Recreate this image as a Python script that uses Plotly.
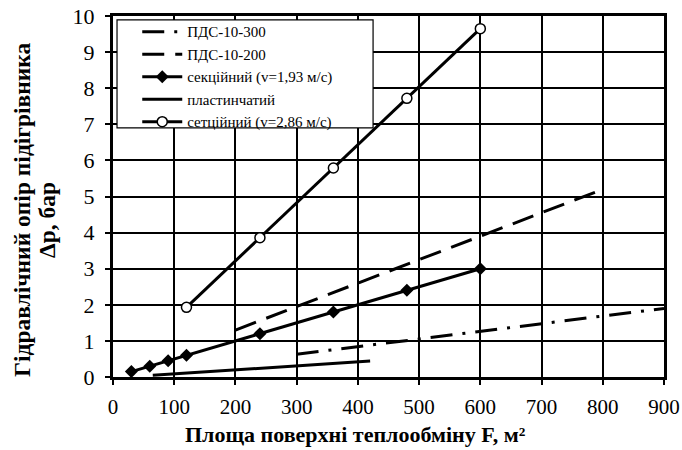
import plotly.graph_objects as go

# Data
sek_x = [30, 60, 90, 120, 240, 360, 480, 600]
sek_y = [0.15, 0.30, 0.45, 0.60, 1.20, 1.80, 2.40, 3.00]
set_x = [120, 240, 360, 480, 600]
set_y = [1.93, 3.86, 5.79, 7.72, 9.65]
pds200_x = [200, 800]
pds200_y = [1.30, 5.20]
pds300_x = [300, 900]
pds300_y = [0.63, 1.90]
plast_x = [65, 420]
plast_y = [0.05, 0.44]

x_ticks = [0, 100, 200, 300, 400, 500, 600, 700, 800, 900]
y_ticks = [0, 1, 2, 3, 4, 5, 6, 7, 8, 9, 10]

x_title = "Площа поверхні теплообміну F, м²"
y_title_1 = "Гідравлічний опір підігрівника"
y_title_2 = "Δp, бар"

FONT = "Liberation Serif"

fig = go.Figure()
fig.add_trace(go.Scatter(x=pds300_x, y=pds300_y, mode="lines", name="ПДС-10-300",
                         line=dict(color="black", width=3, dash="22px,10px,3px,10px")))
fig.add_trace(go.Scatter(x=pds200_x, y=pds200_y, mode="lines", name="ПДС-10-200",
                         line=dict(color="black", width=3, dash="22px,11px")))
fig.add_trace(go.Scatter(x=sek_x, y=sek_y, mode="lines+markers", name="секційний (v=1,93 м/с)",
                         line=dict(color="black", width=3),
                         marker=dict(symbol="diamond", size=10, color="black")))
fig.add_trace(go.Scatter(x=plast_x, y=plast_y, mode="lines", name="пластинчатий",
                         line=dict(color="black", width=3)))
fig.add_trace(go.Scatter(x=set_x, y=set_y, mode="lines+markers", name="сетційний (v=2,86 м/с)",
                         line=dict(color="black", width=3),
                         marker=dict(symbol="circle", size=10, color="white",
                                     line=dict(color="black", width=1.5))))

# legend frame (white box with black border)
fig.add_shape(type="rect", xref="paper", yref="paper",
              x0=0.0073, x1=0.472, y0=0.690, y1=0.989,
              fillcolor="white", line=dict(color="black", width=1.2), layer="above")

# axis titles
fig.add_annotation(text="<b>" + x_title + "</b>", xref="paper", yref="paper",
                   x=0.441, y=-0.2008, xanchor="center", yanchor="bottom", showarrow=False,
                   font=dict(family=FONT, size=22, color="black"))
fig.add_annotation(text="<b>" + y_title_1 + "</b>", xref="paper", yref="paper",
                   x=-0.1652, y=0.4654, xanchor="center", yanchor="middle", showarrow=False,
                   textangle=-90, font=dict(family=FONT, size=23.5, color="black"))
fig.add_annotation(text="<b>" + y_title_2 + "</b>", xref="paper", yref="paper",
                   x=-0.1198, y=0.4349, xanchor="center", yanchor="middle", showarrow=False,
                   textangle=-90, font=dict(family=FONT, size=23.5, color="black"))

fig.update_layout(
    width=682, height=450,
    margin=dict(l=113, r=18, t=16, b=73),
    paper_bgcolor="white", plot_bgcolor="white",
    font=dict(family=FONT, color="black", size=18),
    showlegend=True,
    legend=dict(x=0.044, y=1.0017, xanchor="left", yanchor="top",
                bgcolor="rgba(0,0,0,0)", borderwidth=0,
                font=dict(family=FONT, size=15, color="black"),
                itemwidth=40, tracegroupgap=0, traceorder="normal"),
)
fig.update_xaxes(range=[0, 900], tickvals=x_ticks, ticks="outside", ticklen=5,
                 tickcolor="black", tickwidth=1.5, showgrid=True, gridcolor="black", gridwidth=1.5,
                 showline=True, linecolor="black", linewidth=3, mirror=True,
                 zeroline=False, automargin=False, ticklabelstandoff=4,
                 tickfont=dict(family=FONT, size=21, color="black"))
fig.update_yaxes(range=[0, 10], tickvals=y_ticks, ticks="outside", ticklen=5,
                 tickcolor="black", tickwidth=1.5, showgrid=True, gridcolor="black", gridwidth=1.5,
                 showline=True, linecolor="black", linewidth=3, mirror=True,
                 zeroline=False, automargin=False, ticklabelstandoff=6,
                 tickfont=dict(family=FONT, size=22, color="black"))

fig.write_html("out.html")
